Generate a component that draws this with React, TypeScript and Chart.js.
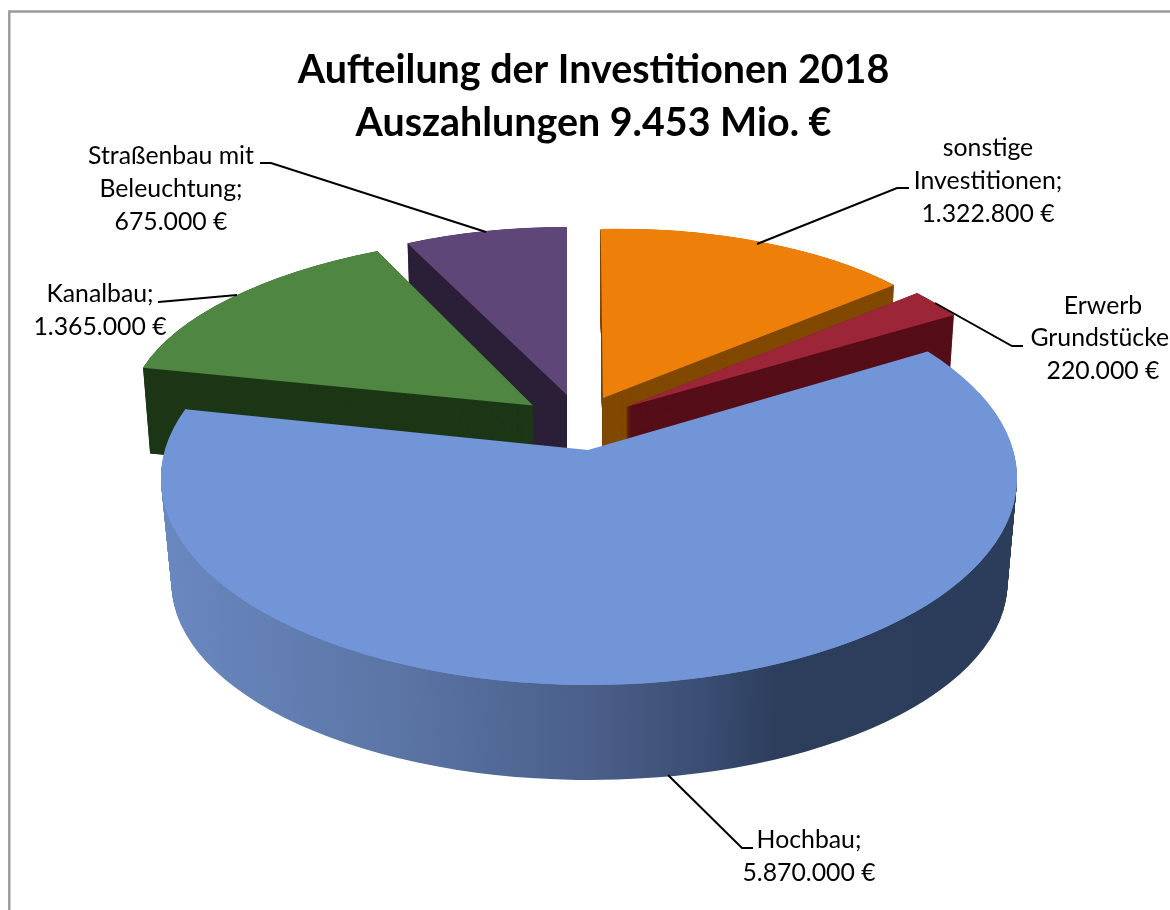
import React, { useEffect, useRef } from "react";
import { Chart, registerables } from "chart.js";

Chart.register(...registerables);

const categories = ["sonstige Investitionen", "Erwerb Grundstücke", "Hochbau", "Kanalbau", "Straßenbau mit Beleuchtung"];
const values = [1322800, 220000, 5870000, 1365000, 675000];
const topColors = ["#EE7F08", "#9C2537", "#7195D7", "#4F8642", "#5F4678"];
const wallColors = ["#824A02", "#57101A", "#3F5A84", "#1E3818", "#2B1F38"];
const titleLines = ["Aufteilung der Investitionen 2018", "Auszahlungen 9.453 Mio. €"];

const fmt = (v: number) => v.toLocaleString("de-DE") + " €";

// label wrapped lines (text only), value is appended from `values`
const labelLines = [
  ["sonstige", "Investitionen;"],
  ["Erwerb", "Grundstücke;"],
  ["Hochbau;"],
  ["Kanalbau;"],
  ["Straßenbau mit", "Beleuchtung;"],
];

// layout of label blocks: centre x, first baseline-middle y, line step
const labelLayout = [
  { x: 988, y: 148, step: 33 },
  { x: 1103, y: 306, step: 32.5 },
  { x: 809, y: 840, step: 33 },
  { x: 100, y: 294, step: 33 },
  { x: 171, y: 156, step: 33 },
];
const leaders = [
  [[909, 188], [897, 188], [757, 244]],
  [[1023, 346], [1012, 346], [935, 303]],
  [[753, 848], [742, 848], [668, 775]],
  [[158, 302], [170, 301], [237, 295]],
  [[260, 163], [271, 163], [486, 232]],
];

// per-slice projection of the unit pie: [a, b, c, d, e, f]
const projection: Record<number, number[]> = {
  0: [380, -6.9, 2.3, 169, 603, 398],
  1: [399.5, 3.4, 26, 183, 626, 407],
  3: [404, 1.2, -21.7, 171, 533, 405.5],
  4: [368, 1, 0, 168, 567, 395],
};
const backDepth = 85;
const backSteps = 340;
const backShrink = 0.018;
const blueRim = { cx: 589, cy: 478, rx: 428, ry: 207 };
const blueWall = { dy: 105, rx: 418, ry: 197, cx: 589.5 };
const blueRot = [-6.4, 7];
const blueApex = [408, 0.3, 19.4, 189.7, 588, 450];

const pie3d = {
  id: "pie3d",
  beforeDatasetDraw(chart: any) {
    const ctx = chart.ctx;
    const arcs = chart.getDatasetMeta(0).data;
    const { x: cx, y: cy, outerRadius: R } = arcs[0];

    const withFill = (arc: any, fill: any) => {
      const o = arc.options;
      arc.options = { ...o, backgroundColor: fill };
      arc.draw(ctx);
      arc.options = o;
    };
    const drawM = (arc: any, m: number[], fill: any, rot = 0) => {
      ctx.save();
      ctx.transform(m[0] / R, m[1] / R, m[2] / R, m[3] / R, m[4], m[5]);
      if (rot) ctx.rotate((rot * Math.PI) / 180);
      ctx.translate(-cx, -cy);
      withFill(arc, fill);
      ctx.restore();
    };

    [4, 3, 0, 1].forEach((i) => {
      const m = projection[i];
      for (let k = backSteps; k >= 1; k--) {
        const t = k / backSteps;
        const s = 1 - backShrink * t;
        drawM(arcs[i], [m[0] * s, m[1] * s, m[2] * s, m[3] * s, m[4], m[5] + backDepth * t], wallColors[i]);
      }
      drawM(arcs[i], m, topColors[i]);
    });

    const blue = arcs[2];
    const g = ctx.createLinearGradient(cx - R, 0, cx + R, 0);
    g.addColorStop(0, "#6A88C0");
    g.addColorStop(0.28, "#5A74A4");
    g.addColorStop(0.5, "#4A5F8A");
    g.addColorStop(0.63, "#3B4E74");
    g.addColorStop(0.72, "#2D3E5D");
    g.addColorStop(1, "#2C3D5B");
    const N = blueWall.dy;
    for (let k = N; k >= 1; k--) {
      const t = k / N;
      const rx = blueRim.rx + (blueWall.rx - blueRim.rx) * t;
      const ry = blueRim.ry + (blueWall.ry - blueRim.ry) * t;
      const x0 = blueRim.cx + (blueWall.cx - blueRim.cx) * t;
      drawM(blue, [rx, 0, 0, ry, x0, blueRim.cy + blueWall.dy * t], g);
    }
    const rimM = [blueRim.rx, 0, 0, blueRim.ry, blueRim.cx, blueRim.cy];
    blueRot.forEach((r) => drawM(blue, rimM, topColors[2], r));
    drawM(blue, blueApex, topColors[2]);
    return false;
  },
  afterDraw(chart: any) {
    const ctx = chart.ctx;
    ctx.save();
    // frame
    ctx.strokeStyle = "#999999";
    ctx.lineWidth = 2.4;
    ctx.beginPath();
    ctx.moveTo(9.3, 912);
    ctx.lineTo(9.3, 11.5);
    ctx.lineTo(1172, 11.5);
    ctx.stroke();
    // leaders
    ctx.strokeStyle = "#000";
    ctx.lineWidth = 2;
    leaders.forEach((pts) => {
      ctx.beginPath();
      pts.forEach((p, i) => (i ? ctx.lineTo(p[0], p[1]) : ctx.moveTo(p[0], p[1])));
      ctx.stroke();
    });
    // labels
    ctx.fillStyle = "#000";
    ctx.font = "24.8px Lato";
    ctx.textAlign = "center";
    ctx.textBaseline = "middle";
    categories.forEach((_, i) => {
      const l = labelLayout[i];
      [...labelLines[i], fmt(values[i])].forEach((s, j) => ctx.fillText(s, l.x, l.y + j * l.step));
    });
    ctx.restore();
  },
};

export default function App() {
  const ref = useRef<HTMLCanvasElement>(null);
  useEffect(() => {
    const chart = new Chart(ref.current as HTMLCanvasElement, {
      type: "pie",
      data: {
        labels: categories,
        datasets: [{ data: values, backgroundColor: topColors, borderWidth: 0 }],
      },
      options: {
        responsive: false,
        animation: false,
        events: [],
        layout: { padding: { left: 17 } },
        plugins: {
          legend: { display: false },
          tooltip: { enabled: false },
          title: {
            display: true,
            text: titleLines,
            color: "#000",
            font: { family: "Lato", weight: "bold", size: 39.4, lineHeight: 1.345 },
            padding: { top: 44, bottom: 10 },
          },
        },
      },
      plugins: [pie3d],
    } as any);
    return () => chart.destroy();
  }, []);
  return (
    <canvas
      ref={ref}
      width={1170}
      height={910}
      style={{ position: "fixed", left: 0, top: 0, width: 1170, height: 910, background: "#fff" }}
    />
  );
}
